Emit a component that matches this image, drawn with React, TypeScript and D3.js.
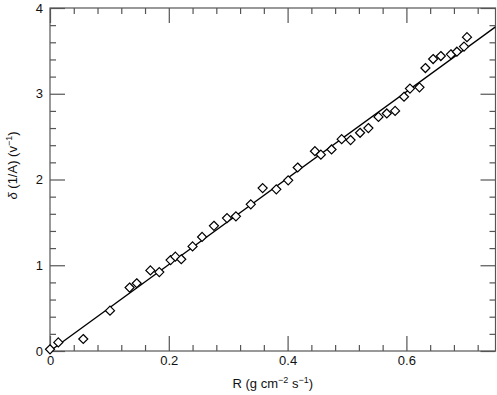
import React, { useEffect, useRef } from "react";
import * as d3 from "d3";

// R (g cm^-2 s^-1) and delta(1/A) (v^-1)
const rValues = [
  0.0, 0.014, 0.056, 0.101, 0.134, 0.146, 0.169, 0.184, 0.203, 0.211,
  0.221, 0.24, 0.256, 0.276, 0.298, 0.313, 0.338, 0.358, 0.381, 0.401,
  0.417, 0.446, 0.456, 0.474, 0.491, 0.506, 0.522, 0.536, 0.553, 0.567,
  0.581, 0.596, 0.606, 0.622, 0.632, 0.645, 0.658, 0.675, 0.685, 0.697,
  0.702,
];
const deltaValues = [
  0.02, 0.1, 0.14, 0.47, 0.74, 0.79, 0.94, 0.92, 1.06, 1.1,
  1.07, 1.22, 1.33, 1.46, 1.55, 1.57, 1.71, 1.9, 1.885, 1.99,
  2.14, 2.33, 2.29, 2.35, 2.47, 2.46, 2.545, 2.6, 2.73, 2.77,
  2.8, 2.965, 3.06, 3.075, 3.3, 3.405, 3.44, 3.46, 3.49, 3.55,
  3.66,
];
// fitted line through the origin
const fitSlope = 5.04;
const fitIntercept = 0;

const xMajorTicks = [0, 0.2, 0.4, 0.6];
const yMajorTicks = [0, 1, 2, 3, 4];

const App = () => {
  const svgRef = useRef<SVGSVGElement | null>(null);

  useEffect(() => {
    const svg = d3.select(svgRef.current);
    svg.selectAll("*").remove();

    const margin = { top: 8, right: 1.5, bottom: 44, left: 50 };
    const width = 497 - margin.left - margin.right;
    const height = 395 - margin.top - margin.bottom;
    const font = "'Liberation Sans', Arial, sans-serif";

    const g = svg
      .append("g")
      .attr("transform", `translate(${margin.left},${margin.top})`);

    const x = d3.scaleLinear().domain([0, 0.75]).range([0, width]);
    const y = d3.scaleLinear().domain([0, 4]).range([height, 0]);

    const xMinor = d3.range(0, 0.7601, 0.04).filter(
      (v) => !xMajorTicks.some((m) => Math.abs(m - v) < 1e-6)
    );
    const yMinor = d3.range(0, 4.001, 0.2).filter(
      (v) => !yMajorTicks.some((m) => Math.abs(m - v) < 1e-6)
    );

    const axisColor = "#555";
    const style = (sel: any, labels: boolean) => {
      sel.select(".domain").remove();
      sel.selectAll("line").attr("stroke", axisColor).attr("stroke-width", 1.2);
      if (!labels) sel.selectAll("text").remove();
      sel
        .selectAll("text")
        .attr("fill", "#111")
        .attr("font-size", 13)
        .attr("font-family", font);
    };

    // bottom
    g.append("g")
      .attr("transform", `translate(0,${height})`)
      .call(d3.axisBottom(x).tickValues(xMajorTicks).tickSize(-15).tickPadding(5).tickFormat(d3.format("")))
      .call((s) => style(s, true));
    g.append("g")
      .attr("transform", `translate(0,${height})`)
      .call(d3.axisBottom(x).tickValues(xMinor).tickSize(-6))
      .call((s) => style(s, false));
    // top
    g.append("g")
      .call(d3.axisTop(x).tickValues(xMajorTicks).tickSize(-15))
      .call((s) => style(s, false));
    g.append("g")
      .call(d3.axisTop(x).tickValues(xMinor).tickSize(-6))
      .call((s) => style(s, false));
    // left
    g.append("g")
      .call(d3.axisLeft(y).tickValues(yMajorTicks).tickSize(-15).tickPadding(7).tickFormat(d3.format("d")))
      .call((s) => style(s, true));
    g.append("g")
      .call(d3.axisLeft(y).tickValues(yMinor).tickSize(-6))
      .call((s) => style(s, false));
    // right
    g.append("g")
      .attr("transform", `translate(${width},0)`)
      .call(d3.axisRight(y).tickValues(yMajorTicks).tickSize(-15))
      .call((s) => style(s, false));
    g.append("g")
      .attr("transform", `translate(${width},0)`)
      .call(d3.axisRight(y).tickValues(yMinor).tickSize(-6))
      .call((s) => style(s, false));

    // frame
    g.append("rect")
      .attr("width", width)
      .attr("height", height)
      .attr("fill", "none")
      .attr("stroke", axisColor)
      .attr("stroke-width", 1.2);

    // fit line
    const clipId = "plot-clip";
    g.append("clipPath")
      .attr("id", clipId)
      .append("rect")
      .attr("width", width)
      .attr("height", height);
    const xs = [0, 0.75];
    g.append("path")
      .attr("clip-path", `url(#${clipId})`)
      .attr(
        "d",
        d3
          .line<number>()
          .x((d) => x(d))
          .y((d) => y(fitIntercept + fitSlope * d))(xs)
      )
      .attr("fill", "none")
      .attr("stroke", "#000")
      .attr("stroke-width", 1.3);

    // points
    const points = rValues.map((r, i) => ({ r, d: deltaValues[i] }));
    const diamond = d3.symbol().type(d3.symbolDiamond2).size(52);
    g.selectAll(".pt")
      .data(points)
      .enter()
      .append("path")
      .attr("class", "pt")
      .attr("d", diamond)
      .attr("transform", (p) => `translate(${x(p.r)},${y(p.d)})`)
      .attr("fill", "#fff")
      .attr("stroke", "#000")
      .attr("stroke-width", 1.2);

    // x title
    const xt = g
      .append("text")
      .attr("x", width / 2)
      .attr("y", height + 37)
      .attr("text-anchor", "middle")
      .attr("font-family", font)
      .attr("font-size", 13)
      .attr("fill", "#111");
    xt.append("tspan").text("R (g cm");
    xt.append("tspan").attr("dy", -5).attr("font-size", 9).text("−2");
    xt.append("tspan").attr("dy", 5).text(" s");
    xt.append("tspan").attr("dy", -5).attr("font-size", 9).text("−1");
    xt.append("tspan").attr("dy", 5).text(")");

    // y title
    const yt = svg
      .append("text")
      .attr("transform", `translate(17,${margin.top + height / 2 - 14}) rotate(-90)`)
      .attr("text-anchor", "middle")
      .attr("font-family", font)
      .attr("font-size", 13)
      .attr("fill", "#111");
    yt.append("tspan").attr("font-style", "italic").text("δ");
    yt.append("tspan").text(" (1/A) (v");
    yt.append("tspan").attr("dy", -5).attr("font-size", 9).text("−1");
    yt.append("tspan").attr("dy", 5).text(")");
  }, []);

  return (
    <svg
      ref={svgRef}
      width={497}
      height={395}
      style={{ position: "absolute", left: 0, top: 0, background: "#fff" }}
    ></svg>
  );
};

export default App;
